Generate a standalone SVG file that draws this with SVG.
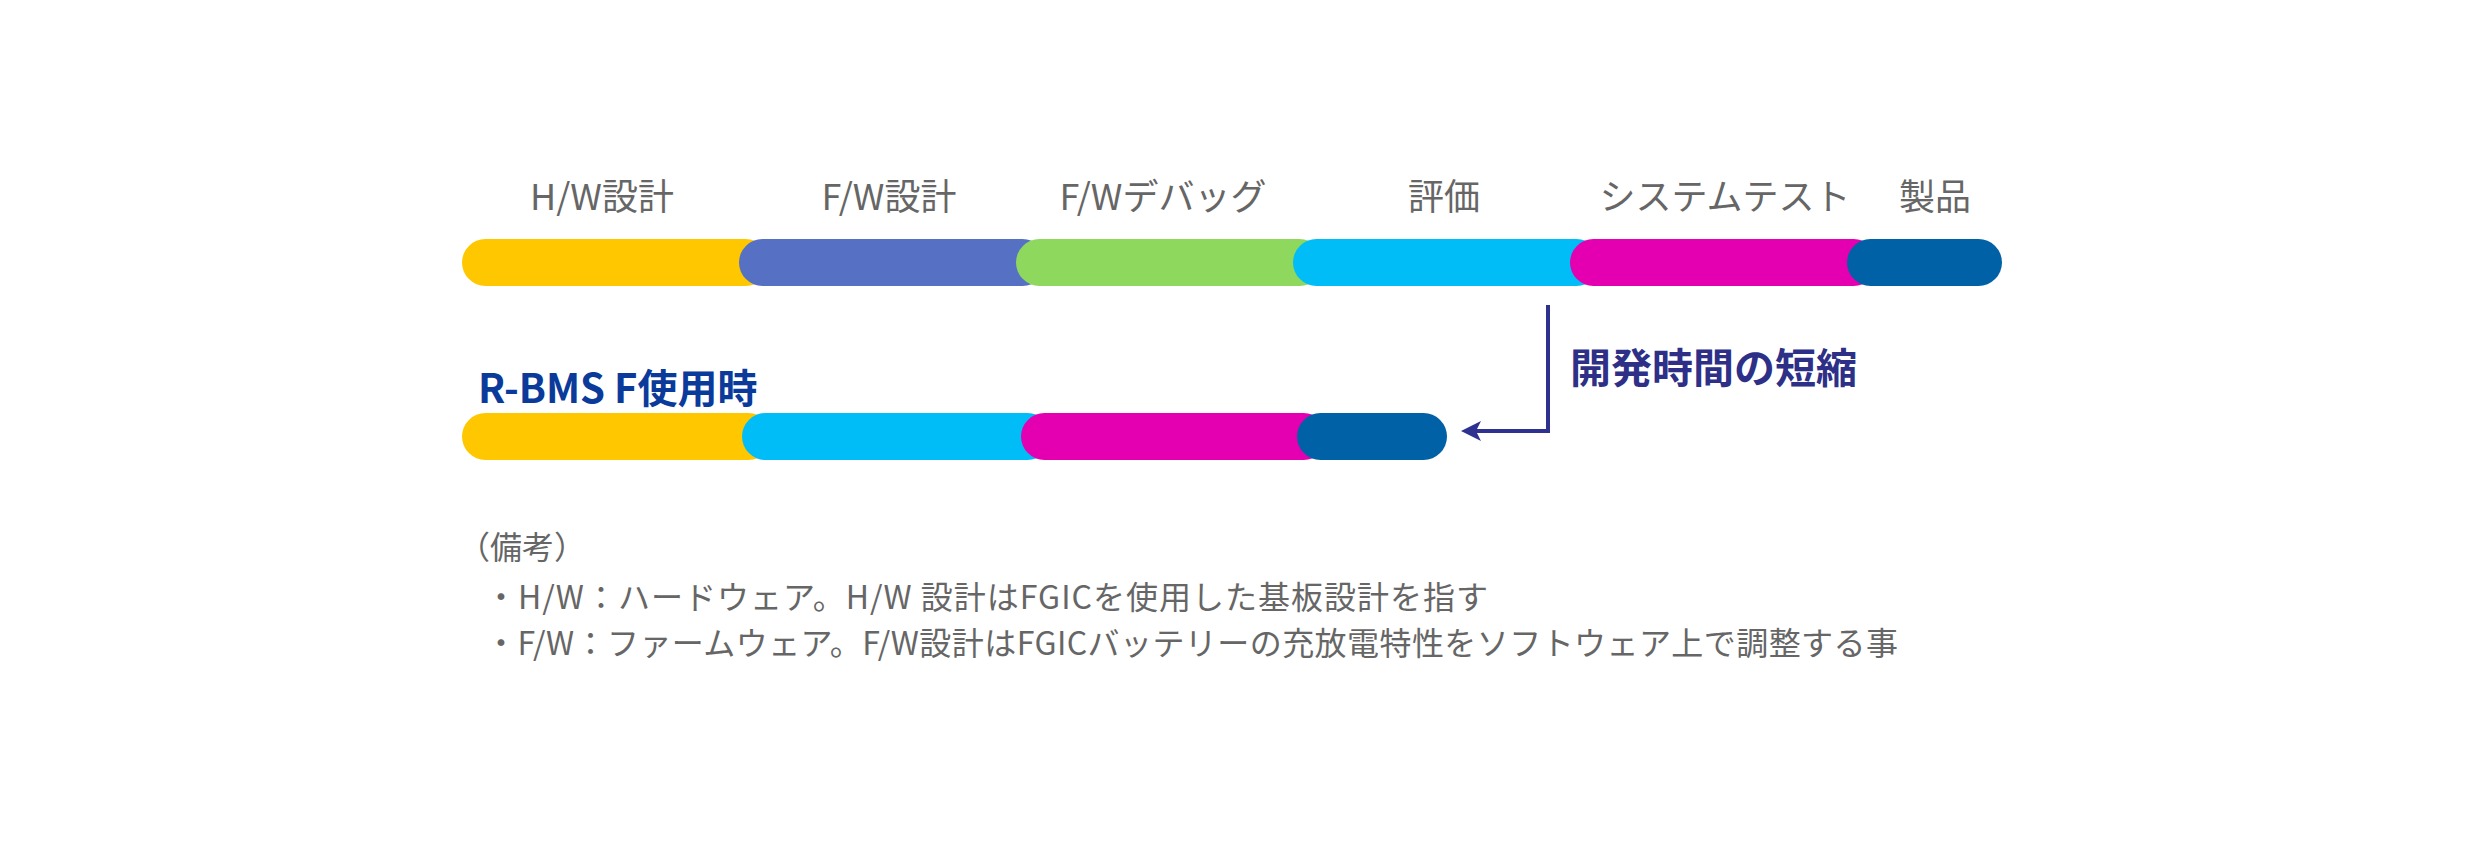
<svg xmlns="http://www.w3.org/2000/svg" width="2475" height="855" viewBox="0 0 2475 855">
<defs>
<style>
.lbl{font-family:"Noto Sans CJK JP","Noto Sans",sans-serif;font-size:36px;fill:#666;text-anchor:middle}
.note{font-family:"Noto Sans CJK JP","Noto Sans",sans-serif;font-size:32px;fill:#666}
.seg{stroke:none}
.y{fill:#fec700}.b{fill:#5670c4}.g{fill:#8ed85e}.c{fill:#00bdf8}.m{fill:#e400b0}.d{fill:#0061a6}
.conn{fill:none;stroke:#2e3190;stroke-width:4}
</style>
<marker id="ah" viewBox="0 0 20 20" refX="11" refY="10" markerWidth="20" markerHeight="20" markerUnits="userSpaceOnUse" orient="auto">
<path d="M0,0 L20,10 L0,20 L5,10 z" fill="#2e3190"/>
</marker>
</defs>
<rect width="2475" height="855" fill="#fff"/>
<g id="labels">
<text class="lbl" x="602" y="210">H/W設計</text>
<text class="lbl" x="889" y="210">F/W設計</text>
<text class="lbl" x="1163" y="210">F/Wデバッグ</text>
<text class="lbl" x="1444" y="210">評価</text>
<text class="lbl" x="1725" y="210">システムテスト</text>
<text class="lbl" x="1935" y="210">製品</text>
</g>
<g id="current-flow">
<rect class="seg y" x="462" y="239" width="307" height="47" rx="23.5"/>
<rect class="seg b" x="739" y="239" width="307" height="47" rx="23.5"/>
<rect class="seg g" x="1016" y="239" width="307" height="47" rx="23.5"/>
<rect class="seg c" x="1293" y="239" width="307" height="47" rx="23.5"/>
<rect class="seg m" x="1570" y="239" width="307" height="47" rx="23.5"/>
<rect class="seg d" x="1847" y="239" width="155" height="47" rx="23.5"/>
</g>
<g id="rbms-flow">
<text x="478" y="403" font-family="'Noto Sans CJK JP','Noto Sans',sans-serif" font-size="40" font-weight="700" fill="#0a3a9a">R-BMS F使用時</text>
<rect class="seg y" x="462" y="413" width="310" height="47" rx="23.5"/>
<rect class="seg c" x="742" y="413" width="309" height="47" rx="23.5"/>
<rect class="seg m" x="1021" y="413" width="306" height="47" rx="23.5"/>
<rect class="seg d" x="1297" y="413" width="150" height="47" rx="23.5"/>
</g>
<g id="connectors">
<path class="conn" d="M1548,305 V431 H1470" marker-end="url(#ah)"/>
</g>
<g id="shorten-label">
<text x="1570" y="383" font-family="'Noto Sans CJK JP','Noto Sans',sans-serif" font-size="41" font-weight="700" fill="#2e3088">開発時間の短縮</text>
</g>
<g id="notes">
<text class="note" x="458" y="559">（備考）</text>
<text class="note" x="485" y="609" textLength="1003" lengthAdjust="spacing">・H/W：ハードウェア。H/W 設計はFGICを使用した基板設計を指す</text>
<text class="note" x="485" y="655" textLength="1413" lengthAdjust="spacing">・F/W：ファームウェア。F/W設計はFGICバッテリーの充放電特性をソフトウェア上で調整する事</text>
</g>
</svg>
